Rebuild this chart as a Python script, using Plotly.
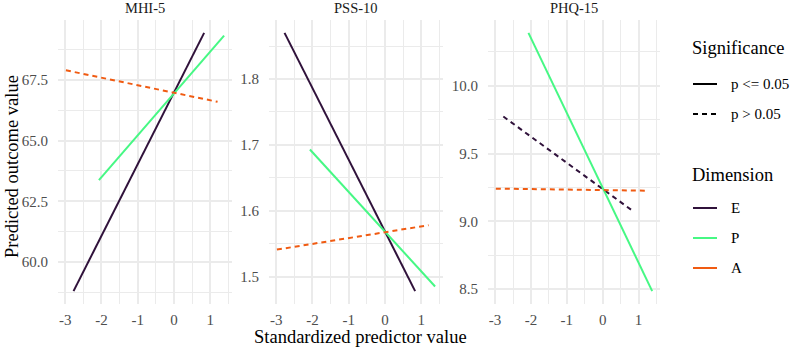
import plotly.graph_objects as go

W, H = 790, 350

# ---------------- data ----------------
dimensions = ["E", "P", "A"]
dim_colors = ["#30123B", "#46F884", "#F05B12"]
x_start = [-2.77, -2.07, -2.98]
x_end = [0.83, 1.38, 1.20]

outcomes = ["MHI-5", "PSS-10", "PHQ-15"]
mhi_start = [58.80, 63.37, 67.90]
mhi_end = [69.44, 69.33, 66.60]
pss_start = [1.870, 1.693, 1.541]
pss_end = [1.478, 1.485, 1.578]
phq_start = [9.773, 10.390, 9.241]
phq_end = [9.078, 8.485, 9.226]
# significance per outcome (order E, P, A): True = p <= 0.05
mhi_sig = [True, True, False]
pss_sig = [True, True, False]
phq_sig = [False, True, False]

x_ticks = [-3, -2, -1, 0, 1]
x_tick_labels = ["-3", "-2", "-1", "0", "1"]
y_ticks = [[60.0, 62.5, 65.0, 67.5], [1.5, 1.6, 1.7, 1.8], [8.5, 9.0, 9.5, 10.0]]
y_minor = [1.25, 0.05, 0.25]

starts = [mhi_start, pss_start, phq_start]
ends = [mhi_end, pss_end, phq_end]
sigs = [mhi_sig, pss_sig, phq_sig]

# ---------------- layout geometry (page px) ----------------
panels_px = [(58, 232), (269, 443), (488, 660)]
plot_top, plot_bot = 20, 304
FONT = "'Liberation Serif', 'Times New Roman', Times, serif"
GRID = "#EBEBEB"
TICKC = "#4D4D4D"
DASH = "5px,4px"

fig = go.Figure()


def px_x(x):
    return x / W


def px_y(y):
    return 1 - y / H


for i in range(3):
    xa = "x" if i == 0 else f"x{i+1}"
    ya = "y" if i == 0 else f"y{i+1}"
    for j in range(3):
        fig.add_trace(go.Scatter(
            x=[x_start[j], x_end[j]],
            y=[starts[i][j], ends[i][j]],
            mode="lines",
            line=dict(color=dim_colors[j], width=2,
                      dash="solid" if sigs[i][j] else DASH),
            xaxis=xa, yaxis=ya, showlegend=False,
            name=f"{outcomes[i]} {dimensions[j]}",
        ))

# ranges with ggplot-like 5% expansion
xmin, xmax = min(x_start), max(x_end)
xr = xmax - xmin
x_range = [xmin - 0.05 * xr, xmax + 0.05 * xr]

layout = dict(
    width=W, height=H,
    margin=dict(l=0, r=0, t=0, b=0),
    paper_bgcolor="white", plot_bgcolor="white",
    font=dict(family=FONT, color=TICKC, size=13),
    showlegend=False,
)

for i in range(3):
    ys = starts[i] + ends[i]
    lo, hi = min(ys), max(ys)
    r = hi - lo
    y_range = [lo - 0.05 * r, hi + 0.05 * r]
    xk = "xaxis" if i == 0 else f"xaxis{i+1}"
    yk = "yaxis" if i == 0 else f"yaxis{i+1}"
    ya = "y" if i == 0 else f"y{i+1}"
    xa = "x" if i == 0 else f"x{i+1}"
    layout[xk] = dict(
        domain=[px_x(panels_px[i][0]), px_x(panels_px[i][1])],
        range=x_range, anchor=ya,
        tickvals=x_ticks, ticktext=x_tick_labels,
        showgrid=True, gridcolor=GRID, gridwidth=1.5,
        minor=dict(dtick=0.5, tick0=0, showgrid=True, gridcolor=GRID, gridwidth=0.8),
        zeroline=False, showline=False,
        ticks="outside", ticklen=2, tickcolor="rgba(0,0,0,0)",
        tickfont=dict(family=FONT, size=15, color=TICKC),
    )
    layout[yk] = dict(
        domain=[px_y(plot_bot), px_y(plot_top)],
        range=y_range, anchor=xa,
        tickvals=y_ticks[i], tickformat=".1f",
        showgrid=True, gridcolor=GRID, gridwidth=1.5,
        minor=dict(dtick=y_minor[i], tick0=y_ticks[i][0], showgrid=True,
                   gridcolor=GRID, gridwidth=0.8),
        zeroline=False, showline=False,
        ticks="outside", ticklen=6, tickcolor="rgba(0,0,0,0)",
        tickfont=dict(family=FONT, size=15, color=TICKC),
    )

fig.update_layout(**layout)

ann = []
# strip titles
for i in range(3):
    cx = (panels_px[i][0] + panels_px[i][1]) / 2
    ann.append(dict(text=outcomes[i], x=px_x(cx), y=px_y(7.5), xref="paper", yref="paper",
                    showarrow=False, xanchor="center", yanchor="middle",
                    font=dict(family=FONT, size=14.5, color="#1A1A1A")))
# axis titles
ann.append(dict(text="Standardized predictor value", x=px_x(360), y=px_y(337),
                xref="paper", yref="paper", showarrow=False,
                xanchor="center", yanchor="middle",
                font=dict(family=FONT, size=18.5, color="black")))
ann.append(dict(text="Predicted outcome value", x=px_x(12), y=px_y(167),
                xref="paper", yref="paper", showarrow=False, textangle=-90,
                xanchor="center", yanchor="middle",
                font=dict(family=FONT, size=18.5, color="black")))

# manual legend
shapes = []
leg_x0, key_x0, key_x1, lab_x = 690, 693, 717, 729
ann.append(dict(text="Significance", x=px_x(leg_x0), y=px_y(48), xref="paper", yref="paper",
                showarrow=False, xanchor="left", yanchor="middle",
                font=dict(family=FONT, size=18.5, color="black")))
sig_labels = ["p <= 0.05", "p > 0.05"]
sig_dash = ["solid", DASH]
for k, yy in enumerate([84, 114]):
    shapes.append(dict(type="line", xref="paper", yref="paper",
                       x0=px_x(key_x0), x1=px_x(key_x1), y0=px_y(yy), y1=px_y(yy),
                       line=dict(color="black", width=2, dash=sig_dash[k])))
    ann.append(dict(text=sig_labels[k], x=px_x(lab_x), y=px_y(yy), xref="paper", yref="paper",
                    showarrow=False, xanchor="left", yanchor="middle",
                    font=dict(family=FONT, size=15, color="black")))
ann.append(dict(text="Dimension", x=px_x(leg_x0), y=px_y(175), xref="paper", yref="paper",
                showarrow=False, xanchor="left", yanchor="middle",
                font=dict(family=FONT, size=18.5, color="black")))
for k, yy in enumerate([208, 238, 268]):
    shapes.append(dict(type="line", xref="paper", yref="paper",
                       x0=px_x(key_x0), x1=px_x(key_x1), y0=px_y(yy), y1=px_y(yy),
                       line=dict(color=dim_colors[k], width=2)))
    ann.append(dict(text=dimensions[k], x=px_x(lab_x), y=px_y(yy), xref="paper", yref="paper",
                    showarrow=False, xanchor="left", yanchor="middle",
                    font=dict(family=FONT, size=15, color="black")))

fig.update_layout(annotations=ann, shapes=shapes)
fig.write_html(
    "out.html",
    config={"displayModeBar": False},
    post_script="document.body.style.margin='0';document.body.style.overflow='hidden';",
)
